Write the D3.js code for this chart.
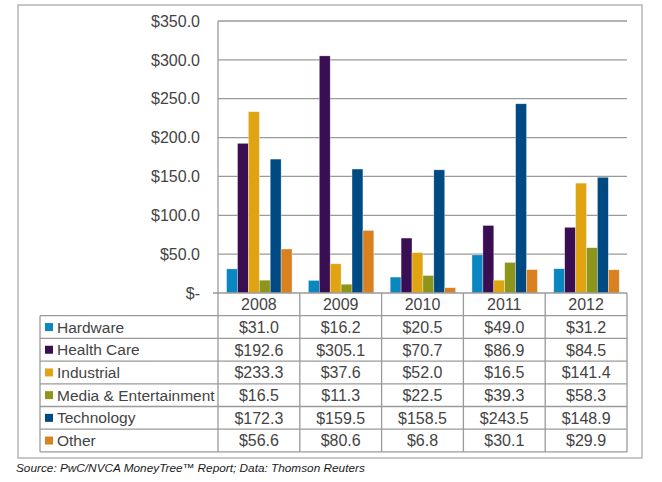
<!DOCTYPE html>
<html>
<head>
<meta charset="utf-8">
<script src="https://cdn.jsdelivr.net/npm/d3@7"></script>
<style>
  body { margin: 0; background: #fff; }
  svg text { font-family: "Liberation Sans", Arial, sans-serif; }
</style>
</head>
<body>
<svg id="chart" width="662" height="482"></svg>
<script>
// data (US$ millions)
var years = ["2008", "2009", "2010", "2011", "2012"];
var seriesNames = ["Hardware", "Health Care", "Industrial", "Media & Entertainment", "Technology", "Other"];
var seriesColors = ["#0a86c0", "#3a0e52", "#e0a412", "#8e951b", "#004a84", "#d98020"];
var hardware = [31.0, 16.2, 20.5, 49.0, 31.2];
var healthCare = [192.6, 305.1, 70.7, 86.9, 84.5];
var industrial = [233.3, 37.6, 52.0, 16.5, 141.4];
var media = [16.5, 11.3, 22.5, 39.3, 58.3];
var technology = [172.3, 159.5, 158.5, 243.5, 148.9];
var other = [56.6, 80.6, 6.8, 30.1, 29.9];
var yTicks = [0, 50, 100, 150, 200, 250, 300, 350];
var sourceNote = "Source: PwC/NVCA MoneyTree\u2122 Report; Data: Thomson Reuters";

var seriesValues = [hardware, healthCare, industrial, media, technology, other];
var series = seriesNames.map(function(name, i) {
    return { name: name, color: seriesColors[i], values: seriesValues[i] };
});

var svg = d3.select("#chart");
var textColor = "#444444";
var lineColor = "#9a9a9a";

// outer frame
svg.append("rect")
    .attr("x", 18).attr("y", 5)
    .attr("width", 624).attr("height", 453)
    .attr("fill", "none")
    .attr("stroke", "#b5b5b5")
    .attr("stroke-width", 1.5);

var plotLeft = 218, plotRight = 627, plotTop = 21, plotBottom = 293;

var x0 = d3.scaleBand()
        .domain(years)
        .range([plotLeft, plotRight]);

var bw = x0.bandwidth();
var x1 = d3.scaleBand()
        .domain(seriesNames)
        .range([bw * 0.105, bw * 0.905]);

var y = d3.scaleLinear()
        .domain([0, 350])
        .range([plotBottom, plotTop]);

// gridlines
svg.append("g")
    .selectAll("line")
    .data(yTicks.filter(function(d) { return d > 0; }))
    .enter().append("line")
    .attr("x1", plotLeft).attr("x2", plotRight)
    .attr("y1", function(d) { return y(d); })
    .attr("y2", function(d) { return y(d); })
    .attr("stroke", lineColor)
    .attr("stroke-width", 1.3);

// y tick labels
svg.append("g")
    .selectAll("text")
    .data(yTicks)
    .enter().append("text")
    .attr("x", 200)
    .attr("y", function(d) { return y(d); })
    .attr("dy", "0.36em")
    .attr("text-anchor", "end")
    .attr("font-size", "16px")
    .attr("fill", textColor)
    .text(function(d) { return d === 0 ? "$-" : "$" + d3.format(".1f")(d); });

// bars
var group = svg.append("g")
        .selectAll("g")
        .data(years)
        .enter().append("g")
        .attr("transform", function(d) { return "translate(" + x0(d) + ",0)"; });

group.selectAll("rect")
    .data(function(d, i) {
        return series.map(function(s) { return { name: s.name, color: s.color, value: s.values[i] }; });
    })
    .enter().append("rect")
    .attr("x", function(d) { return x1(d.name); })
    .attr("y", function(d) { return y(d.value); })
    .attr("width", x1.bandwidth())
    .attr("height", function(d) { return y(0) - y(d.value); })
    .attr("fill", function(d) { return d.color; })
    .attr("stroke", "#ffffff")
    .attr("stroke-opacity", 0.55)
    .attr("stroke-width", 0.6);

// axis lines
svg.append("line")
    .attr("x1", 213).attr("x2", plotRight)
    .attr("y1", plotBottom).attr("y2", plotBottom)
    .attr("stroke", lineColor).attr("stroke-width", 1.3);
svg.append("line")
    .attr("x1", plotLeft).attr("x2", plotLeft)
    .attr("y1", plotTop).attr("y2", 452)
    .attr("stroke", lineColor).attr("stroke-width", 1.3);

// data table
var tableLeft = 40;
var headerBottom = 315.7;
var rowH = 22.7;
var tableBottom = headerBottom + rowH * series.length;

var table = svg.append("g");

// vertical dividers
table.selectAll("line.v")
    .data(years)
    .enter().append("line")
    .attr("class", "v")
    .attr("x1", function(d) { return x0(d) + bw; })
    .attr("x2", function(d) { return x0(d) + bw; })
    .attr("y1", plotBottom).attr("y2", tableBottom)
    .attr("stroke", lineColor).attr("stroke-width", 1.3);
table.append("line")
    .attr("x1", tableLeft).attr("x2", tableLeft)
    .attr("y1", headerBottom).attr("y2", tableBottom)
    .attr("stroke", lineColor).attr("stroke-width", 1.3);

// horizontal rules
table.selectAll("line.h")
    .data(d3.range(series.length + 1))
    .enter().append("line")
    .attr("class", "h")
    .attr("x1", tableLeft).attr("x2", plotRight)
    .attr("y1", function(i) { return headerBottom + i * rowH; })
    .attr("y2", function(i) { return headerBottom + i * rowH; })
    .attr("stroke", lineColor).attr("stroke-width", 1.3);

// year header
table.selectAll("text.year")
    .data(years)
    .enter().append("text")
    .attr("class", "year")
    .attr("x", function(d) { return x0(d) + bw / 2; })
    .attr("y", (plotBottom + headerBottom) / 2)
    .attr("dy", "0.36em")
    .attr("text-anchor", "middle")
    .attr("font-size", "16px")
    .attr("fill", textColor)
    .text(function(d) { return d; });

var row = table.selectAll("g.row")
        .data(series)
        .enter().append("g")
        .attr("class", "row")
        .attr("transform", function(d, i) {
            return "translate(0," + (headerBottom + i * rowH + rowH / 2) + ")"; });

row.append("rect")
    .attr("x", 45).attr("y", -4)
    .attr("width", 8).attr("height", 8)
    .attr("fill", function(d) { return d.color; });

row.append("text")
    .attr("x", 57)
    .attr("dy", "0.36em")
    .attr("font-size", "15.5px")
    .attr("fill", textColor)
    .text(function(d) { return d.name; });

row.selectAll("text.val")
    .data(function(d) { return d.values; })
    .enter().append("text")
    .attr("class", "val")
    .attr("x", function(d, i) { return x0(years[i]) + bw / 2; })
    .attr("dy", "0.36em")
    .attr("text-anchor", "middle")
    .attr("font-size", "16px")
    .attr("fill", textColor)
    .text(function(d) { return "$" + d3.format(".1f")(d); });

// source note
svg.append("text")
    .attr("x", 16).attr("y", 472)
    .attr("font-size", "11.8px")
    .attr("font-style", "italic")
    .attr("fill", "#1a1a1a")
    .text(sourceNote);
</script>
</body>
</html>
